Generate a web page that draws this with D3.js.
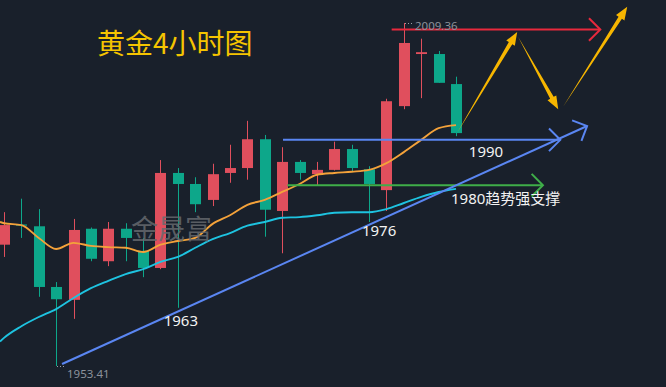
<!DOCTYPE html>
<html>
<head>
<meta charset="utf-8">
<title>黄金4小时图</title>
<script src="https://cdn.jsdelivr.net/npm/d3@7"></script>
<style>
  html, body { margin: 0; padding: 0; background: #19202b; }
  svg { display: block; }
  .ma { fill: none; stroke-width: 1.9px; }
  .tag { fill: #f2f2f2; font: 15px "Noto Sans", "Noto Sans CJK SC", sans-serif; }
  .price { fill: #8d929b; font: 11.5px "Noto Sans", sans-serif; }
</style>
</head>
<body>
<div id="chart"></div>
<script>
// 4h candles, oldest first
var opens  = [1973.2, 1976.5, 1976.2, 1966.3, 1964.2, 1975.8, 1970.5, 1975.8, 1972.2, 1969.4, 1984.9, 1983.1, 1980.5, 1984.9,
              1985.7, 1990.4, 1978.7, 1986.7, 1984.7, 1985.4, 1988.8, 1985.5, 1982.1, 1995.8, 2004.3, 2004.3, 1999.4];
var highs  = [1978.5, 1980.7, 1979.0, 1967.1, 1977.4, 1976.0, 1976.9, 1976.7, 1974.3, 1987.0, 1985.7, 1984.2, 1986.4, 1989.5,
              1993.4, 1991.1, 1989.1, 1987.0, 1986.7, 1990.0, 1989.5, 1986.0, 1997.0, 2009.36, 2006.8, 2004.8, 2000.6];
var lows   = [1971.2, 1974.3, 1964.7, 1953.41, 1961.1, 1970.5, 1969.7, 1970.5, 1967.9, 1969.2, 1962.9, 1978.5, 1979.5, 1983.3,
              1983.8, 1974.5, 1971.8, 1983.8, 1982.9, 1985.3, 1985.1, 1976.9, 1978.7, 1995.3, 1997.1, 1999.6, 1990.9];
var closes = [1976.4, 1976.3, 1966.3, 1964.3, 1975.6, 1970.9, 1975.8, 1974.3, 1969.4, 1984.9, 1983.1, 1979.8, 1984.7, 1985.7,
              1990.4, 1978.9, 1986.7, 1984.9, 1985.4, 1988.8, 1985.7, 1983.1, 1996.6, 2006.1, 2004.6, 1999.6, 1991.4];

// moving averages (first point sits just left of candle 0)
var maIndex = [-0.23].concat(d3.range(27));
var maFast = [1976.9, 1976.7, 1976.4, 1974.3, 1972.5, 1973.5, 1973.0, 1972.8, 1972.7, 1972.0, 1973.2, 1973.8, 1974.3, 1976.6, 1978.0,
              1979.7, 1980.5, 1981.8, 1983.1, 1984.6, 1984.9, 1985.1, 1985.4, 1986.5, 1988.3, 1990.3, 1992.2, 1992.7];
var maSlow = [1957.4, 1958.0, 1959.9, 1961.4, 1962.7, 1964.5, 1966.1, 1967.3, 1968.4, 1969.2, 1970.4, 1971.2, 1972.7, 1974.1, 1975.1,
              1976.3, 1976.9, 1977.6, 1977.7, 1978.0, 1978.4, 1978.5, 1978.5, 1979.0, 1980.0, 1981.0, 1981.8, 1982.3];

// drawn lines: [index, price] -> [index, price]
var trendLine   = [[3.34, 1953.74], [33.54, 1992.56]];
var resistLine  = [[22.3, 2008.3], [34.3, 2008.3]];
var line1990    = [[16.05, 1990.3], [32.0, 1990.3]];
var line1980    = [[16.3, 1982.9], [31.0, 1982.9]];
var pathArrows  = [
  [[26.06, 1991.4], [29.52, 2007.9]],
  [[29.57, 2007.1], [31.88, 1995.3]],
  [[32.16, 1995.7], [35.85, 2012.0]]
];

var width = 666, height = 387;

var x = d3.scaleLinear().domain([0, 26]).range([4, 456]);
var y = d3.scaleLinear().domain([1953.41, 2009.36]).range([366, 23]);

var svg = d3.select("#chart").append("svg")
  .attr("width", width)
  .attr("height", height);

svg.append("rect").attr("width", width).attr("height", height).attr("fill", "#19202b");

var up = "#e04f5d", down = "#0da78a";
var candles = d3.range(opens.length).map(function(i) {
  return { i: i, o: opens[i], h: highs[i], l: lows[i], c: closes[i] };
});

var cg = svg.append("g").attr("class", "candles");
var cd = cg.selectAll("g").data(candles).enter().append("g");

cd.append("line")
  .attr("x1", function(d) { return Math.round(x(d.i)) + 0.5; })
  .attr("x2", function(d) { return Math.round(x(d.i)) + 0.5; })
  .attr("y1", function(d) { return y(d.h); })
  .attr("y2", function(d) { return y(d.l); })
  .attr("stroke", function(d) { return d.c >= d.o ? up : down; })
  .attr("stroke-width", 1);

cd.append("rect")
  .attr("x", function(d) { return Math.round(x(d.i)) - 5; })
  .attr("width", 11)
  .attr("y", function(d) { return y(Math.max(d.o, d.c)); })
  .attr("height", function(d) { return Math.max(1.2, Math.abs(y(d.o) - y(d.c))); })
  .attr("fill", function(d) { return d.c >= d.o ? up : down; });

// MAs
var maLine = d3.line()
  .x(function(d, i) { return x(maIndex[i]); })
  .y(function(d) { return y(d); })
  .curve(d3.curveMonotoneX);

svg.append("path").attr("class", "ma").attr("stroke", "#1ec3e0").attr("d", maLine(maSlow));
svg.append("path").attr("class", "ma").attr("stroke", "#f4a23a").attr("d", maLine(maFast));

// watermark
svg.append("text")
  .attr("x", x(7.3)).attr("y", 239)
  .attr("fill", "#66696e").attr("fill-opacity", 0.85)
  .style("font", "27px 'Noto Sans CJK SC', sans-serif")
  .text("金晟富");

// straight arrows with open heads
function arrowLine(pts, color) {
  var x1 = x(pts[0][0]), y1 = y(pts[0][1]), x2 = x(pts[1][0]), y2 = y(pts[1][1]);
  var a = Math.atan2(y2 - y1, x2 - x1), len = 16;
  var g = svg.append("g").attr("stroke", color).attr("stroke-width", 2).attr("fill", "none");
  g.append("line").attr("x1", x1).attr("y1", y1).attr("x2", x2).attr("y2", y2);
  g.append("polyline").attr("points", [
    [x2 + len * Math.cos(a + Math.PI * 0.75), y2 + len * Math.sin(a + Math.PI * 0.75)],
    [x2, y2],
    [x2 + len * Math.cos(a - Math.PI * 0.75), y2 + len * Math.sin(a - Math.PI * 0.75)]
  ].join(" "));
}

arrowLine(line1980, "#3fae49");
arrowLine(line1990, "#5a86f2");
arrowLine(trendLine, "#5a86f2");
arrowLine(resistLine, "#e8293d");

// tapered forecast arrows
function taperArrow(pts, color) {
  var x1 = x(pts[0][0]), y1 = y(pts[0][1]), x2 = x(pts[1][0]), y2 = y(pts[1][1]);
  var dx = x2 - x1, dy = y2 - y1, L = Math.sqrt(dx * dx + dy * dy);
  var ux = dx / L, uy = dy / L, nx = -uy, ny = ux;
  var head = 13, hw = 5, sw = 2;
  var bx = x2 - ux * head, by = y2 - uy * head;
  var p = [
    [x1, y1],
    [bx + nx * sw, by + ny * sw],
    [bx + nx * hw, by + ny * hw],
    [x2, y2],
    [bx - nx * hw, by - ny * hw],
    [bx - nx * sw, by - ny * sw]
  ];
  svg.append("polygon").attr("points", p.join(" ")).attr("fill", color);
}

pathArrows.forEach(function(a) { taperArrow(a, "#f7b600"); });

// extreme price marks
function extreme(i, price, dy, label) {
  var px = Math.round(x(i)) + 1, py = y(price);
  svg.append("line")
    .attr("x1", px).attr("x2", px + 9).attr("y1", py + 0.5).attr("y2", py + 0.5)
    .attr("stroke", "#9aa0a8").attr("stroke-dasharray", "1,2");
  svg.append("text").attr("class", "price")
    .attr("x", px + 10).attr("y", py + dy)
    .text(label);
}
extreme(23, highs[23], 7, "2009.36");
extreme(3, lows[3], 12, "1953.41");

// level tags
svg.append("text").attr("class", "tag").attr("text-anchor", "middle")
  .attr("x", x(10) + 3).attr("y", y(lows[10]) + 18).text("1963");
svg.append("text").attr("class", "tag").attr("text-anchor", "middle")
  .attr("x", x(21) + 10).attr("y", y(lows[21]) + 14).text("1976");
svg.append("text").attr("class", "tag").attr("text-anchor", "middle")
  .attr("x", 486).attr("y", y(line1990[0][1]) + 17).text("1990");
svg.append("text").attr("class", "tag")
  .attr("x", 451).attr("y", y(line1980[0][1]) + 19).text("1980趋势强支撑");

// title
svg.append("text")
  .attr("x", 97).attr("y", 54)
  .attr("fill", "#f5c400")
  .style("font", "28px 'Noto Sans CJK SC', sans-serif")
  .text("黄金4小时图");
</script>
</body>
</html>
